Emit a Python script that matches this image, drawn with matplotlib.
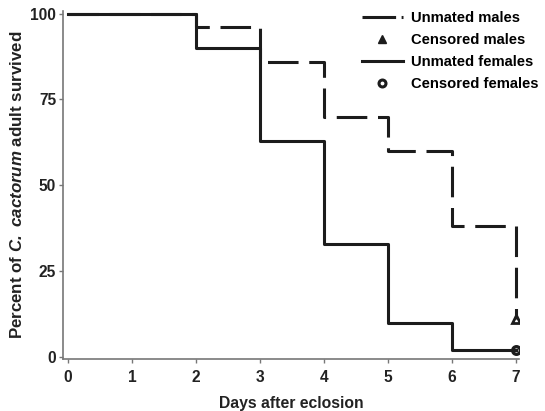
import matplotlib
matplotlib.use("Agg")
import matplotlib.pyplot as plt
from matplotlib.lines import Line2D

plt.rcParams["font.family"] = "Liberation Sans"
plt.rcParams["font.weight"] = "bold"
plt.rcParams["mathtext.fontset"] = "custom"
plt.rcParams["mathtext.bfit"] = "Liberation Sans:bold:italic"

# Kaplan-Meier steps
days = [0, 1, 2, 3, 4, 5, 6, 7]
males_steps = [0, 2, 3, 4, 5, 6, 7]
males_pct = [100, 96, 86, 70, 60, 38, 11]
females_steps = [0, 2, 3, 4, 5, 6, 7]
females_pct = [100, 90, 63, 33, 10, 2, 2]
censored_males = (7, 11)
censored_females = (7, 2)
yticks = [0, 25, 50, 75, 100]

ink = "#1c1c1c"
txt = "#222222"
fig = plt.figure(figsize=(5.45, 4.11), dpi=100)
ax = fig.add_axes([0.1156, 0.1265, 0.837, 0.847])

ax.step(males_steps, males_pct, where="post", color=ink, lw=2.2,
        dashes=(10, 3.5))
ax.step(females_steps, females_pct, where="post", color=ink, lw=2.2)
ax.plot(*censored_males, marker="^", color=ink, ms=6, mfc="none", mew=2)
ax.plot(*censored_females, marker="o", color=ink, ms=5.5, mfc="none", mew=2.4)

ax.set_xlim(-0.08, 7.05)
ax.set_ylim(-0.6, 100.8)
ax.set_xticks(days)
ax.set_yticks(yticks)
for s in ["top", "right"]:
    ax.spines[s].set_visible(False)
for s in ["left", "bottom"]:
    ax.spines[s].set_color("#777777")
    ax.spines[s].set_linewidth(1.2)
ax.tick_params(colors="#777777", length=3, width=1, labelcolor=txt,
               labelsize=11.2, pad=2)
ax.tick_params(axis="x", pad=5)
for lab in ax.get_xticklabels() + ax.get_yticklabels():
    lab.set_fontweight("bold")

ax.set_xlabel("Days after eclosion", fontsize=11.3, fontweight="bold",
              color=txt, labelpad=8)
ax.set_ylabel("Percent of $\\mathbfit{C.}$ $\\mathbfit{cactorum}$ adult survived",
              fontsize=12.2, fontweight="bold", color=txt, labelpad=4)

handles = [
    Line2D([], [], color=ink, lw=2.2, dashes=(11, 1.8, 2, 10)),
    Line2D([], [], color=ink, lw=0, marker="^", ms=6),
    Line2D([], [], color=ink, lw=2.2),
    Line2D([], [], color=ink, lw=0, marker="o", ms=5, mfc="none", mew=2.2),
]
labels = ["Unmated males", "Censored males", "Unmated females",
          "Censored females"]
fig.legend(handles, labels, loc="upper left", bbox_to_anchor=(0.64, 1.005),
           frameon=False, prop={"weight": "bold", "size": 10.6},
           handlelength=2.75, labelspacing=0.55, handletextpad=0.6)

fig.savefig("out.png", dpi=100)
